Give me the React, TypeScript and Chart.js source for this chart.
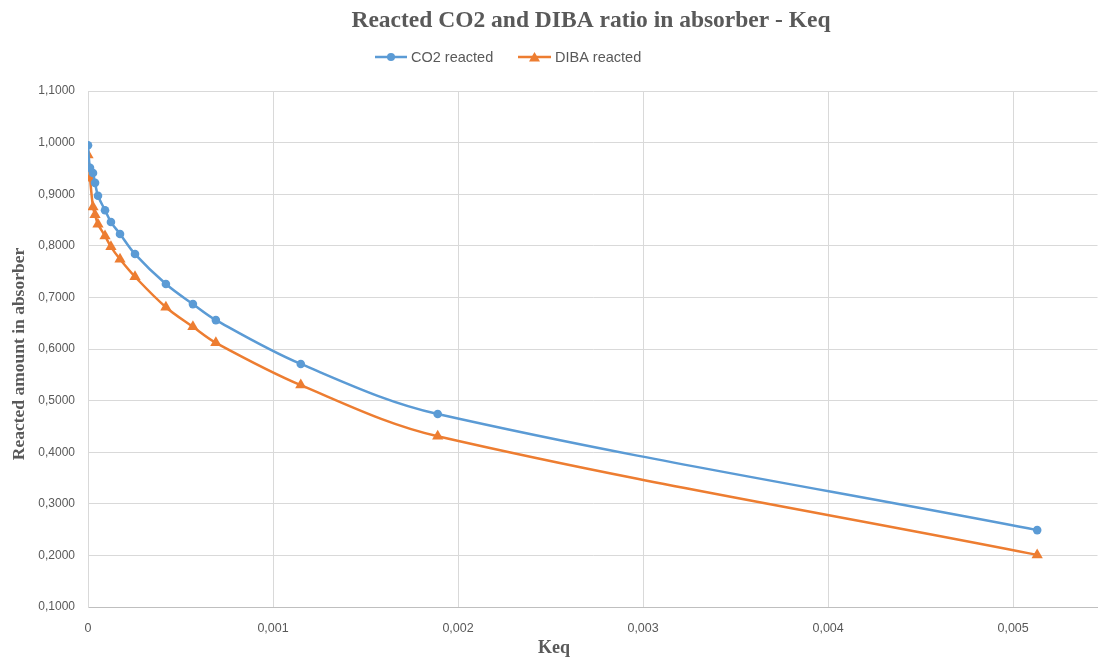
import React, { useEffect, useRef } from "react";
import { Chart, registerables } from "chart.js";

Chart.register(...registerables);

const chartTitle = "Reacted CO2 and DIBA ratio in absorber - Keq";
const xAxisTitle = "Keq";
const yAxisTitle = "Reacted amount in absorber";
const seriesNames = ["CO2 reacted", "DIBA reacted"];

const keqValues = [
  0, 0.000011, 0.000027, 0.000038, 0.000054, 0.000092, 0.000124, 0.000173,
  0.000254, 0.000421, 0.000567, 0.000691, 0.00115, 0.00189, 0.00513,
];
const co2Reacted = [
  0.995, 0.951, 0.941, 0.922, 0.897, 0.869, 0.846, 0.823, 0.784, 0.726,
  0.687, 0.656, 0.571, 0.474, 0.249,
];
const dibaReacted = [
  0.976, 0.931, 0.875, 0.86, 0.842, 0.819, 0.798, 0.774, 0.74, 0.681, 0.643,
  0.612, 0.53, 0.431, 0.201,
];

const yMin = 0.1;
const yMax = 1.1;
const yStep = 0.1;
const xMin = 0;
const xMax = 0.005456;
const xStep = 0.001;

const BLUE = "#5b9bd5";
const ORANGE = "#ed7d31";
const TEXT = "#595959";
const GRID = "#d9d9d9";

const fmtY = (v: number) => v.toFixed(4).replace(".", ",");
const fmtX = (v: number) => (Math.abs(v) < 1e-12 ? "0" : v.toFixed(3).replace(".", ","));

const decorPlugin = {
  id: "decor",
  afterDraw(chart: any) {
    const ctx = chart.ctx as CanvasRenderingContext2D;
    ctx.save();
    ctx.fillStyle = TEXT;
    ctx.textAlign = "center";
    ctx.textBaseline = "middle";
    ctx.font = 'bold 23.5px "Liberation Serif"';
    ctx.fillText(chartTitle, 591, 21);

    // legend
    const ly = 57;
    ctx.lineWidth = 2.5;
    ctx.strokeStyle = BLUE;
    ctx.beginPath();
    ctx.moveTo(375, ly);
    ctx.lineTo(407, ly);
    ctx.stroke();
    ctx.fillStyle = BLUE;
    ctx.beginPath();
    ctx.arc(391, ly, 4, 0, Math.PI * 2);
    ctx.fill();

    ctx.strokeStyle = ORANGE;
    ctx.beginPath();
    ctx.moveTo(518, ly);
    ctx.lineTo(551, ly);
    ctx.stroke();
    ctx.fillStyle = ORANGE;
    ctx.beginPath();
    ctx.moveTo(534.5, ly - 5);
    ctx.lineTo(540, ly + 4.5);
    ctx.lineTo(529, ly + 4.5);
    ctx.closePath();
    ctx.fill();

    ctx.fillStyle = TEXT;
    ctx.textAlign = "left";
    ctx.font = '14.5px "Liberation Sans"';
    ctx.fillText(seriesNames[0], 411, ly + 1);
    ctx.fillText(seriesNames[1], 555, ly + 1);

    // axis titles
    ctx.textAlign = "center";
    ctx.font = 'bold 18px "Liberation Serif"';
    ctx.fillText(xAxisTitle, 554, 648);
    ctx.font = 'bold 17.5px "Liberation Serif"';
    ctx.translate(19, 354);
    ctx.rotate(-Math.PI / 2);
    ctx.fillText(yAxisTitle, 0, 0);
    ctx.restore();
  },
};

export default function App() {
  const canvasRef = useRef<HTMLCanvasElement | null>(null);

  useEffect(() => {
    if (!canvasRef.current) return;
    const chart = new Chart(canvasRef.current, {
      type: "line",
      data: {
        datasets: [
          {
            label: seriesNames[0],
            data: keqValues.map((x, i) => ({ x, y: co2Reacted[i] })),
            borderColor: BLUE,
            backgroundColor: BLUE,
            borderWidth: 2.5,
            pointStyle: "circle",
            pointRadius: 4.3,
            pointBorderWidth: 0,
            tension: 0.35,
          },
          {
            label: seriesNames[1],
            data: keqValues.map((x, i) => ({ x, y: dibaReacted[i] })),
            borderColor: ORANGE,
            backgroundColor: ORANGE,
            borderWidth: 2.5,
            pointStyle: "triangle",
            pointRadius: 6.5,
            pointBorderWidth: 0,
            tension: 0.35,
          },
        ],
      },
      options: {
        animation: false,
        responsive: false,
        maintainAspectRatio: false,
        layout: { padding: { top: 91, left: 0, right: 0, bottom: 0 } },
        plugins: {
          legend: { display: false },
          title: { display: false },
          tooltip: { enabled: false },
        },
        scales: {
          x: {
            type: "linear",
            min: xMin,
            max: xMax,
            afterFit: (s: any) => {
              s.height = 54;
            },
            ticks: {
              stepSize: xStep,
              includeBounds: false,
              color: TEXT,
              font: { family: "Liberation Sans", size: 12.5 },
              padding: 14,
              maxRotation: 0,
              callback: (v: any) => fmtX(Number(v)),
            },
            grid: { color: GRID, lineWidth: 1, drawTicks: false },
            border: { color: "#bfbfbf", width: 1 },
          },
          y: {
            type: "linear",
            min: yMin,
            max: yMax,
            afterFit: (s: any) => {
              s.width = 88;
            },
            ticks: {
              stepSize: yStep,
              color: TEXT,
              font: { family: "Liberation Sans", size: 12 },
              padding: 13,
              callback: (v: any) => fmtY(Number(v)),
            },
            grid: { color: GRID, lineWidth: 1, drawTicks: false },
            border: { color: GRID, width: 1 },
          },
        },
      },
      plugins: [decorPlugin],
    } as any);
    return () => chart.destroy();
  }, []);

  return (
    <div style={{ position: "absolute", left: 0, top: 0, width: 1099, height: 661, overflow: "hidden", background: "#fff" }}>
      <canvas ref={canvasRef} width={1104} height={661} style={{ width: 1104, height: 661, display: "block" }} />
    </div>
  );
}
